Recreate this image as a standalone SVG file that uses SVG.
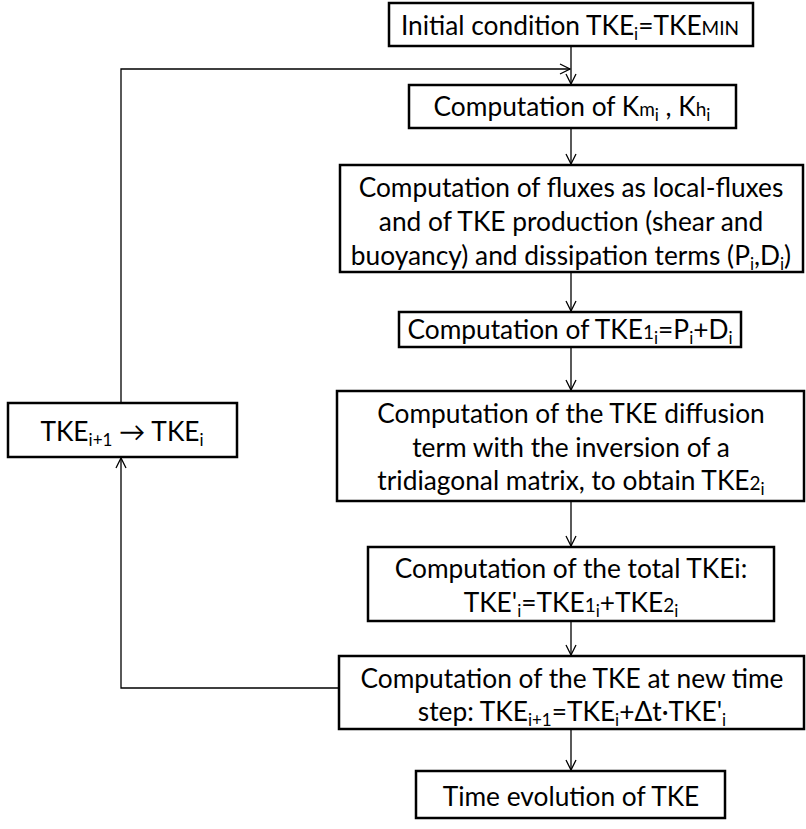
<svg xmlns="http://www.w3.org/2000/svg" width="806" height="829" viewBox="0 0 806 829">
<style>
.box{fill:#fff;stroke:#000;stroke-width:2.5}
.t{font-family:Lato,"Liberation Sans",sans-serif;font-size:26.3px;fill:#000;text-anchor:middle}
.s{font-size:17px}
.sc{font-size:19px}
.c{fill:none;stroke:#000;stroke-width:1.3}
</style>
<defs>
<marker id="ah" viewBox="0 0 12 12" refX="11" refY="6" markerWidth="12" markerHeight="12" markerUnits="userSpaceOnUse" orient="auto">
<path d="M1,1 L11,6 L1,11" fill="none" stroke="#000" stroke-width="1.3"/>
</marker>
</defs>
<g id="connectors">
<line class="c" x1="571" y1="46" x2="571" y2="84" marker-end="url(#ah)"/>
<polyline class="c" points="121,403 121,69 570,69" marker-end="url(#ah)"/>
<line class="c" x1="571" y1="128" x2="571" y2="164" marker-end="url(#ah)"/>
<line class="c" x1="571" y1="272" x2="571" y2="311" marker-end="url(#ah)"/>
<line class="c" x1="571" y1="347" x2="571" y2="390" marker-end="url(#ah)"/>
<line class="c" x1="571" y1="501" x2="571" y2="546" marker-end="url(#ah)"/>
<line class="c" x1="571" y1="621" x2="571" y2="655" marker-end="url(#ah)"/>
<line class="c" x1="571" y1="729" x2="571" y2="770" marker-end="url(#ah)"/>
<polyline class="c" points="339,688 121,688 121,458" marker-end="url(#ah)"/>
</g>
<g id="n1">
<rect class="box" x="389" y="3" width="364" height="43"/>
<text class="t" x="570" y="35">Initial condition TKE<tspan class="s" dy="5">i</tspan><tspan dy="-5">=TKE</tspan><tspan class="sc">MIN</tspan></text>
</g>
<g id="n2">
<rect class="box" x="409" y="85" width="327" height="43"/>
<text class="t" x="572" y="116">Computation of K<tspan class="sc">m</tspan><tspan class="s" dy="5">i</tspan><tspan dy="-5"> , K</tspan><tspan class="sc">h</tspan><tspan class="s" dy="5">i</tspan></text>
</g>
<g id="n3">
<rect class="box" x="340" y="165" width="463" height="107"/>
<text class="t" x="571" y="197">Computation of fluxes as local-fluxes</text>
<text class="t" x="571" y="231">and of TKE production (shear and</text>
<text class="t" x="571" y="265">buoyancy) and dissipation terms (P<tspan class="s" dy="5">i</tspan><tspan dy="-5">,D</tspan><tspan class="s" dy="5">i</tspan><tspan dy="-5">)</tspan></text>
</g>
<g id="n4">
<rect class="box" x="399" y="312" width="342" height="35"/>
<text class="t" x="570" y="339">Computation of TKE<tspan class="sc">1</tspan><tspan class="s" dy="5">i</tspan><tspan dy="-5">=P</tspan><tspan class="s" dy="5">i</tspan><tspan dy="-5">+D</tspan><tspan class="s" dy="5">i</tspan></text>
</g>
<g id="n5">
<rect class="box" x="337" y="391" width="467" height="110"/>
<text class="t" x="571" y="423">Computation of the TKE diffusion</text>
<text class="t" x="571" y="457">term with the inversion of a</text>
<text class="t" x="571" y="490">tridiagonal matrix, to obtain TKE<tspan class="sc">2</tspan><tspan class="s" dy="5">i</tspan></text>
</g>
<g id="n6">
<rect class="box" x="368" y="547" width="406" height="74"/>
<text class="t" x="571" y="578">Computation of the total TKEi:</text>
<text class="t" x="571" y="612">TKE'<tspan class="s" dy="5">i</tspan><tspan dy="-5">=TKE</tspan><tspan class="sc">1</tspan><tspan class="s" dy="5">i</tspan><tspan dy="-5">+TKE</tspan><tspan class="sc">2</tspan><tspan class="s" dy="5">i</tspan></text>
</g>
<g id="n7">
<rect class="box" x="339" y="656" width="465" height="73"/>
<text class="t" x="572" y="688">Computation of the TKE at new time</text>
<text class="t" x="572" y="721">step: TKE<tspan class="s" dy="5">i+1</tspan><tspan dy="-5">=TKE</tspan><tspan class="s" dy="5">i</tspan><tspan dy="-5">+Δt·TKE'</tspan><tspan class="s" dy="5">i</tspan></text>
</g>
<g id="n8">
<rect class="box" x="416" y="771" width="309" height="47"/>
<text class="t" x="571" y="806">Time evolution of TKE</text>
</g>
<g id="n9">
<rect class="box" x="8" y="403" width="229" height="54"/>
<text class="t" x="122" y="441">TKE<tspan class="s" dy="5">i+1</tspan><tspan dy="-5"> → TKE</tspan><tspan class="s" dy="5">i</tspan></text>
</g>
</svg>
